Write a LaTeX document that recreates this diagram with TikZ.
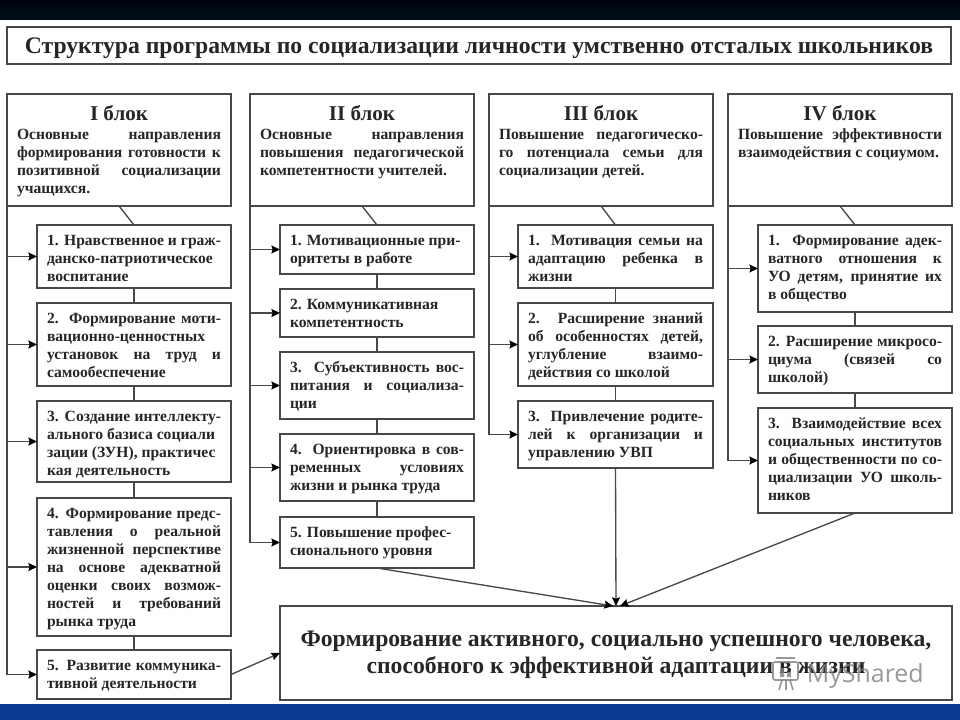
\documentclass[tikz,border=0pt]{standalone}
\usepackage{fontspec}
\setmainfont{Liberation Serif}
\newfontfamily\wmfont{Open Sans}
\usetikzlibrary{arrows.meta}
\definecolor{ink}{HTML}{262626}
\definecolor{rulec}{HTML}{484848}
\definecolor{bandtop}{HTML}{000310}
\definecolor{bandbot}{HTML}{001018}
\definecolor{bandblue}{HTML}{0A3A92}
\tikzset{
  boxst/.style={draw=rulec,line width=1pt,fill=white,anchor=north west,inner xsep=7.5pt,inner ysep=0pt,outer sep=0pt,text=ink},
  link/.style={draw=rulec,line width=1pt},
  arrowlink/.style={link,-{Stealth[length=6.5pt,width=6pt,inset=1pt,color=black]}}
}
\newcommand\bx[6]{\node[boxst] (#1) at (#2,#3) {\vbox to \dimexpr .75pt*(#5-#3)\relax{\hsize=\dimexpr .75pt*(#4-#2)-15pt\relax\offinterlineskip\vskip 5.6pt\relax #6\vss}};}
\newcommand\itemfont{\bfseries\fontsize{11.7}{13.5}\selectfont}
\newcommand\jl[1]{\hbox to \hsize{\rule[-4pt]{0pt}{13.5pt}\itemfont #1}}
\newcommand\nl[1]{\hbox to \hsize{\rule[-4pt]{0pt}{13.5pt}\itemfont #1\hfil}}
\newcommand\hd[1]{\hbox to \hsize{\rule[-4.5pt]{0pt}{18.75pt}\hfil\bfseries\fontsize{15.8}{18}\selectfont #1\hfil}}
\newcommand\bigln[2]{\hbox to \hsize{\rule{0pt}{#1}\hfil\bfseries\fontsize{17.75}{19.5}\selectfont #2\hfil}}
\begin{document}
\begin{tikzpicture}[x=.75pt,y=-.75pt]
\useasboundingbox (0,0) rectangle (960,720);
\fill[white] (0,0) rectangle (960,720);
\shade[top color=bandtop,bottom color=bandbot] (0,0) rectangle (960,20);
\fill[bandblue] (0,704) rectangle (960,720);

\bx{title}{7}{27}{951}{64}{\bigln{14pt}{Структура программы по социализации личности умственно отсталых школьников}}

\bx{b1}{7}{94}{231}{206}{\hd{I блок}\jl{Основные направления}\jl{формирования готовности к}\jl{позитивной социализации}\nl{учащихся.}}
\bx{b2}{250}{94}{474}{206}{\hd{II блок}\jl{Основные направления}\jl{повышения педагогической}\nl{компетентности учителей.}}
\bx{b3}{489}{94}{713}{206}{\hd{III блок}\jl{Повышение педагогическо-}\jl{го потенциала семьи для}\nl{социализации детей.}}
\bx{b4}{728}{94}{952}{206}{\hd{IV блок}\jl{Повышение эффективности}\nl{взаимодействия с социумом.}}

\bx{a1}{37}{225}{231}{288}{\jl{1. Нравственное и граж-}\nl{данско-патриотическое}\nl{воспитание}}
\bx{a2}{37}{303}{231}{386}{\jl{2. Формирование моти-}\nl{вационно-ценностных}\jl{установок на труд и}\nl{самообеспечение}}
\bx{a3}{37}{401}{231}{482}{\jl{3. Создание интеллекту-}\nl{ального базиса социали}\nl{зации (ЗУН), практичес}\nl{кая деятельность}}
\bx{a4}{37}{498}{231}{636}{\jl{4. Формирование предс-}\jl{тавления о реальной}\jl{жизненной перспективе}\jl{на основе адекватной}\jl{оценки своих возмож-}\jl{ностей и требований}\nl{рынка труда}}
\bx{a5}{37}{650}{231}{699}{\jl{5. Развитие коммуника-}\nl{тивной деятельности}}

\bx{c1}{280}{225}{474}{274}{\nl{1. Мотивационные при-}\nl{оритеты в работе}}
\bx{c2}{280}{289}{474}{337}{\nl{2. Коммуникативная}\nl{компетентность}}
\bx{c3}{280}{352}{474}{419}{\jl{3. Субъективность вос-}\jl{питания и социализа-}\nl{ции}}
\bx{c4}{280}{434}{474}{501}{\jl{4. Ориентировка в сов-}\jl{ременных условиях}\nl{жизни и рынка труда}}
\bx{c5}{280}{517}{474}{568}{\nl{5. Повышение профес-}\nl{сионального уровня}}

\bx{d1}{518}{225}{713}{288}{\jl{1. Мотивация семьи на}\jl{адаптацию ребенка в}\nl{жизни}}
\bx{d2}{518}{303}{713}{386}{\jl{2. Расширение знаний}\jl{об особенностях детей,}\jl{углубление взаимо-}\nl{действия со школой}}
\bx{d3}{518}{401}{713}{468}{\jl{3. Привлечение родите-}\jl{лей к организации и}\nl{управлению УВП}}

\bx{e1}{758}{225}{952}{312}{\jl{1. Формирование адек-}\jl{ватного отношения к}\jl{УО детям, принятие их}\nl{в общество}}
\bx{e2}{758}{326}{952}{393}{\jl{2. Расширение микросо-}\jl{циума (связей со}\nl{школой)}}
\bx{e3}{758}{408}{952}{513}{\jl{3. Взаимодействие всех}\jl{социальных институтов}\jl{и общественности по со-}\jl{циализации УО школь-}\nl{ников}}

\bx{goal}{280}{606}{952}{700}{\vskip 12pt\bigln{13pt}{Формирование активного, социально успешного человека,}\bigln{16.5pt}{способного к эффективной адаптации в жизни}}

\coordinate (g1) at (280,653);
\coordinate (g2) at (613,606);
\coordinate (g4) at (620,606);

\draw[link] (b1.south) -- (a1.north);
\draw[link] (b2.south) -- (c1.north);
\draw[link] (b3.south) -- (d1.north);
\draw[link] (b4.south) -- (e1.north);

\foreach \u/\v in {a1/a2,a2/a3,a3/a4,a4/a5,c1/c2,c2/c3,c3/c4,c4/c5,d1/d2,d2/d3,e1/e2,e2/e3}
  \draw[link] (\u.south) -- (\v.north);

\foreach \t in {a1,a2,a3,a4,a5} \draw[arrowlink] (b1.south west) |- (\t.west);
\foreach \t in {c1,c2,c3,c4,c5} \draw[arrowlink] (b2.south west) |- (\t.west);
\foreach \t in {d1,d2,d3} \draw[arrowlink] (b3.south west) |- (\t.west);
\foreach \t in {e1,e2,e3} \draw[arrowlink] (b4.south west) |- (\t.west);

\draw[arrowlink] (a5.east) -- (g1);
\draw[arrowlink] (c5.south) -- (g2);
\draw[arrowlink] (d3.south) -- (goal.north);
\draw[arrowlink] (e3.south) -- (g4);

% watermark
\begin{scope}[opacity=.8,draw=gray,line width=1.2pt]
\draw[rounded corners=1.5pt] (773,662) rectangle (798,680);
\draw (776,658) -- (795,658);
\draw (782,680) -- (779,690) (790,680) -- (793,690) (786,680) -- (786,690);
\fill[gray] (780,668) rectangle (784,677) (787,672) rectangle (791,677);
\node[text=gray,anchor=west,inner sep=0pt,font=\wmfont\fontsize{18.7}{20}\selectfont] (wm) at (806,676) {MyShared};
\end{scope}
\end{tikzpicture}
\end{document}
